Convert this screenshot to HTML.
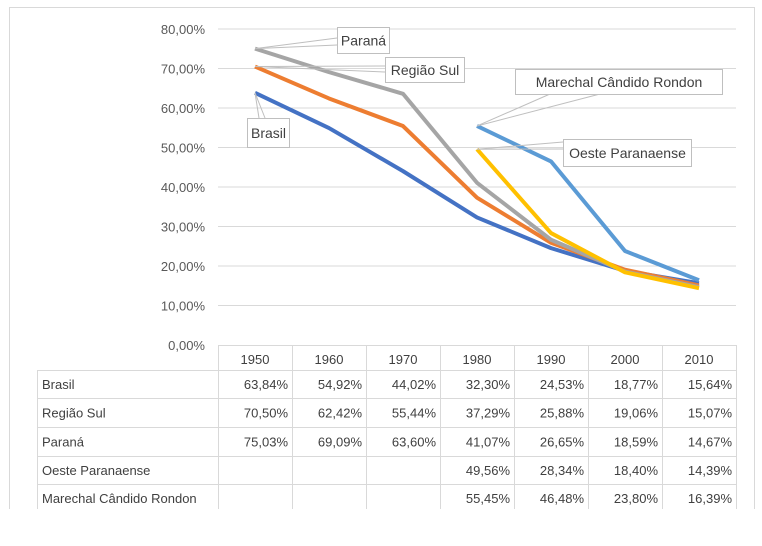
<!DOCTYPE html>
<html><head><meta charset="utf-8"><style>
body{margin:0;background:#fff;width:762px;height:541px;overflow:hidden;font-family:"Liberation Sans",sans-serif;}
svg text{font-family:"Liberation Sans",sans-serif;}
</style></head><body>
<svg id="c" width="762" height="541" viewBox="0 0 762 541">
<rect x="9.5" y="7.5" width="745" height="520" fill="#fff" stroke="#d9d9d9"/>
<rect x="0" y="509" width="762" height="32" fill="#fff"/>
<g id="grid"></g><g id="lines"></g><g id="labels"></g><g id="table"></g>
</svg>
<script>
const years=["1950","1960","1970","1980","1990","2000","2010"];
const seriesNames=["Brasil","Região Sul","Paraná","Oeste Paranaense","Marechal Cândido Rondon"];
const brasil=[63.84,54.92,44.02,32.30,24.53,18.77,15.64];
const regiaoSul=[70.50,62.42,55.44,37.29,25.88,19.06,15.07];
const parana=[75.03,69.09,63.60,41.07,26.65,18.59,14.67];
const oeste=[null,null,null,49.56,28.34,18.40,14.39];
const marechal=[null,null,null,55.45,46.48,23.80,16.39];
const yTicks=[0,10,20,30,40,50,60,70,80];
const colors=["#4472C4","#ED7D31","#A5A5A5","#FFC000","#5B9BD5"];
const NS="http://www.w3.org/2000/svg";
const x0=218,colW=74,y0=345,yTop=29;
const xs=i=>x0+colW*(i+0.5);
const ys=v=>y0-(v/80)*(y0-yTop);
function mk(tag,attrs,parent,txt){const e=document.createElementNS(NS,tag);for(const k in attrs)e.setAttribute(k,attrs[k]);if(txt!==undefined)e.textContent=txt;parent.appendChild(e);return e;}
const fmt=v=>v.toFixed(2).replace('.',',')+'%';
const G=document.getElementById('grid');
yTicks.forEach(t=>{
  if(t>0){const l=mk('line',{x1:x0,x2:736,y1:ys(t),y2:ys(t),stroke:'#d9d9d9','stroke-width':1},G);
  
  }
  const tx=mk('text',{x:205,y:ys(t)+5,'text-anchor':'end','font-size':13,fill:'#595959'},G,fmt(t));
  
  
});
const L=document.getElementById('lines');
const data=[brasil,regiaoSul,parana,oeste,marechal];
data.forEach((s,si)=>{
  const pts=[];s.forEach((v,i)=>{if(v!==null)pts.push(xs(i)+','+ys(v));});
  const p=mk('polyline',{points:pts.join(' '),fill:'none',stroke:colors[si],'stroke-width':4,'stroke-linejoin':'round'},L);
  
  
});
// data labels with leaders
const LB=document.getElementById('labels');
const boxes=[
 {si:0,idx:0,x:247,y:118,w:42,h:29,ax:[[259,118],[265,118]]},
 {si:1,idx:0,x:385,y:57,w:79,h:25,ax:[[385,66],[385,72]]},
 {si:2,idx:0,x:337,y:27,w:52,h:26,ax:[[337,38],[337,45]]},
 {si:3,idx:3,x:563,y:139,w:128,h:27,ax:[[563,142],[563,149]]},
 {si:4,idx:3,x:515,y:69,w:207,h:25,ax:[[550,94],[600,94]]}
];
boxes.forEach(b=>{
  const px=xs(b.idx),py=ys(data[b.si][b.idx]);
  b.ax.forEach(a=>mk('line',{x1:px,y1:py,x2:a[0],y2:a[1],stroke:'#bfbfbf','stroke-width':1},LB));
  const g=mk('g',{},LB);
  
  
  mk('rect',{x:b.x+.5,y:b.y+.5,width:b.w,height:b.h,fill:'#fff',stroke:'#bfbfbf'},g);
  mk('text',{x:b.x+b.w/2+.5,y:b.y+b.h/2+5.5,'text-anchor':'middle','font-size':14,fill:'#404040'},g,seriesNames[b.si]);
});
// table
const T=document.getElementById('table');
const rowY=[345,370,398,427,456,484,512];
const cols=[37,218,292,366,440,514,588,662,736];
const st={stroke:'#d9d9d9','stroke-width':1};
rowY.forEach((y,r)=>{const xa=r===0?218:37;mk('line',Object.assign({x1:xa,x2:736,y1:y+.5,y2:y+.5},st),T);});
cols.forEach((x,c)=>{const ya=c===0?370:345;mk('line',Object.assign({x1:x+.5,x2:x+.5,y1:ya,y2:512},st),T);});
years.forEach((yr,i)=>{const t=mk('text',{x:xs(i),y:364,'text-anchor':'middle','font-size':13,fill:'#404040'},T,yr);
  
  });
data.forEach((s,si)=>{
  const cy=(rowY[si+1]+rowY[si+2])/2+5;
  const n=mk('text',{x:42,y:cy,'font-size':13,fill:'#404040'},T,seriesNames[si]);
  
  
  s.forEach((v,i)=>{if(v===null)return;
    const c=mk('text',{x:cols[i+2]-4,y:cy,'text-anchor':'end','font-size':13,fill:'#404040'},T,fmt(v));
    
    });
});
document.getElementById('c').appendChild((()=>{const r=document.createElementNS(NS,'rect');r.setAttribute('x',0);r.setAttribute('y',509);r.setAttribute('width',762);r.setAttribute('height',32);r.setAttribute('fill','#fff');return r;})());
</script>
</body></html>
